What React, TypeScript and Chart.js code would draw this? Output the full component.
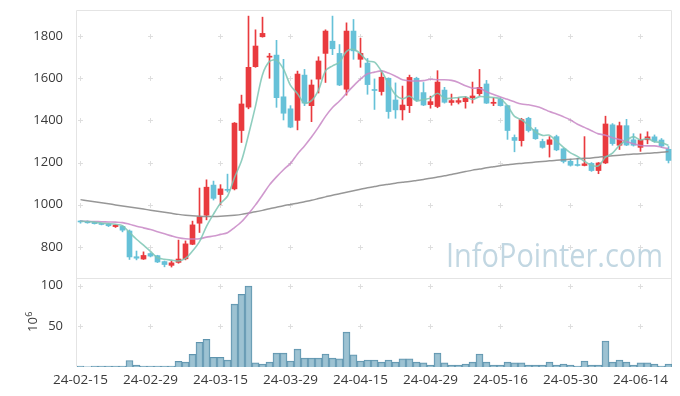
import React, { useEffect, useRef } from 'react';
import { Chart, registerables } from 'chart.js';

Chart.register(...registerables);

const dates = [
  '24-02-15','24-02-16','24-02-19','24-02-20','24-02-21','24-02-22','24-02-23','24-02-26','24-02-27','24-02-28',
  '24-02-29','24-03-04','24-03-05','24-03-06','24-03-07','24-03-08','24-03-11','24-03-12','24-03-13','24-03-14',
  '24-03-15','24-03-18','24-03-19','24-03-20','24-03-21','24-03-22','24-03-25','24-03-26','24-03-27','24-03-28',
  '24-03-29','24-04-01','24-04-02','24-04-03','24-04-04','24-04-05','24-04-08','24-04-09','24-04-11','24-04-12',
  '24-04-15','24-04-16','24-04-17','24-04-18','24-04-19','24-04-22','24-04-23','24-04-24','24-04-25','24-04-26',
  '24-04-29','24-04-30','24-05-02','24-05-03','24-05-07','24-05-08','24-05-09','24-05-10','24-05-13','24-05-14',
  '24-05-16','24-05-17','24-05-20','24-05-21','24-05-22','24-05-23','24-05-24','24-05-27','24-05-28','24-05-29',
  '24-05-30','24-05-31','24-06-03','24-06-04','24-06-05','24-06-07','24-06-10','24-06-11','24-06-12','24-06-13',
  '24-06-14','24-06-17','24-06-18','24-06-19','24-06-20',
];

const opens = [
  922,920,916,910,908,896,897,875,753,742,
  768,758,730,712,726,743,812,912,950,1093,
  1048,1073,1075,1352,1463,1655,1797,1700,1710,1512,
  1455,1400,1615,1470,1596,1718,1776,1718,1548,1824,
  1690,1672,1546,1537,1600,1497,1450,1470,1600,1532,
  1475,1466,1544,1485,1486,1489,1508,1527,1573,1481,
  1500,1470,1319,1304,1410,1356,1300,1286,1323,1265,
  1206,1190,1186,1196,1162,1198,1379,1282,1375,1308,
  1272,1308,1322,1307,1263,
];
const highs = [
  925,923,918,912,910,905,899,880,780,776,
  772,760,733,733,832,828,922,1079,1118,1112,
  1095,1145,1390,1520,1895,1830,1890,1718,1780,1690,
  1470,1634,1642,1592,1702,1830,1895,1760,1863,1879,
  1790,1694,1597,1636,1602,1578,1563,1615,1605,1580,
  1515,1636,1557,1525,1510,1513,1582,1642,1590,1508,
  1508,1472,1331,1410,1415,1366,1311,1323,1330,1268,
  1216,1221,1323,1200,1200,1420,1385,1392,1405,1337,
  1336,1346,1331,1314,1276,
];
const lows = [
  912,912,908,904,896,892,871,740,738,740,
  752,725,705,704,722,738,810,868,928,1022,
  1000,1060,1070,1295,1455,1652,1795,1600,1462,1402,
  1365,1355,1470,1394,1530,1580,1712,1565,1520,1690,
  1652,1524,1452,1520,1410,1410,1402,1437,1490,1470,
  1458,1460,1482,1472,1478,1458,1482,1518,1480,1470,
  1468,1310,1251,1278,1345,1310,1268,1226,1256,1198,
  1183,1183,1184,1158,1147,1195,1282,1262,1280,1278,
  1253,1289,1296,1272,1198,
];
const closes = [
  918,914,910,906,900,903,879,752,746,759,
  756,728,716,724,742,814,904,942,1083,1030,
  1075,1068,1387,1478,1652,1753,1813,1705,1508,1434,
  1368,1620,1482,1568,1682,1824,1740,1568,1824,1730,
  1718,1570,1542,1605,1442,1450,1473,1604,1497,1473,
  1489,1582,1486,1494,1494,1506,1516,1557,1482,1486,
  1470,1352,1305,1404,1352,1313,1272,1308,1260,1205,
  1187,1186,1194,1162,1198,1383,1290,1375,1283,1282,
  1307,1322,1301,1278,1210,
];
const volumes = [
  1.2,0.3,1.2,1.2,1.2,1.2,1.2,8,2.5,1.2,
  1.2,1.2,1.2,1.2,7,6,15.5,30.5,34,12,
  12,8.5,77.5,89.5,99.6,5,3.7,6,17,17,
  7.4,22,11,11,11,16,11,10,43,15,
  7.4,8.6,8.6,6,8.6,6,10,10,6,5,
  2.5,17,5,2.5,2.5,3.7,6,16,6,2.5,
  2.5,6,5,5,2.5,2.5,2.5,6,2.5,3.7,
  2.5,1.2,7.4,2.5,2.5,32,6,8.6,6,2.5,
  5,5,3.7,1.2,3.7,
];
const ma5 = [
  922,920,917,913,910,907,900,868,836,808,
  778,748,741,737,733,745,780,825,897,955,
  1007,1040,1129,1208,1332,1468,1617,1680,1686,1643,
  1566,1527,1482,1494,1544,1635,1659,1676,1728,1737,
  1716,1682,1677,1633,1575,1522,1502,1515,1493,1499,
  1507,1529,1505,1505,1509,1512,1499,1513,1511,1509,
  1502,1469,1419,1403,1377,1345,1329,1330,1301,1272,
  1246,1229,1206,1187,1185,1225,1245,1282,1306,1323,
  1307,1314,1299,1295,1281,
];
const ma20 = [
  922,921,920,919,918,917,915,907,898,890,
  882,872,862,852,843,838,837,838,846,851,
  859,867,891,919,957,999,1046,1094,1132,1166,
  1196,1241,1279,1321,1368,1419,1461,1492,1529,1564,
  1596,1621,1629,1635,1625,1610,1593,1588,1587,1589,
  1595,1593,1593,1590,1580,1564,1553,1553,1536,1523,
  1511,1500,1488,1478,1474,1467,1457,1442,1430,1417,
  1402,1382,1367,1351,1336,1330,1318,1309,1299,1289,
  1281,1279,1279,1273,1266,
];
const ma120 = [
  1024,1019,1014,1009,1004,999,994,989,984,979,
  974,969,964,959,954,950,947,945,944,944,
  945,947,950,954,960,966,973,981,988,995,
  1001,1007,1014,1021,1029,1037,1045,1052,1059,1066,
  1073,1080,1086,1092,1097,1102,1106,1110,1115,1120,
  1125,1131,1137,1143,1150,1157,1164,1169,1175,1180,
  1185,1189,1193,1196,1199,1202,1205,1208,1211,1213,
  1216,1218,1220,1222,1225,1229,1232,1235,1238,1240,
  1242,1244,1246,1249,1252,
];

const priceTicks = [800, 1000, 1200, 1400, 1600, 1800];
const volumeTicks = [50, 100];
const labelEvery = 10;

const FONT = '"Open Sans", "Noto Sans", sans-serif';
const TEXT = '#3a3a3a';
const RED = '#e93a3e';
const BLUE = '#66c1d8';

const decor = {
  id: 'decor',
  beforeDatasetsDraw(chart: any) {
    const { ctx, chartArea } = chart;
    const xs = chart.scales.x;
    const ys = chart.scales.y;
    const vs = chart.scales.v;
    ctx.save();
    // borders
    ctx.strokeStyle = '#e4e4e4';
    ctx.lineWidth = 1;
    ctx.beginPath();
    const L = Math.round(chartArea.left) - 0.5;
    const R = Math.round(chartArea.right) - 0.5;
    const T = Math.round(chartArea.top) + 0.5;
    const B = Math.round(chartArea.bottom) - 0.5;
    const S = Math.round(ys.bottom) + 0.5;
    ctx.moveTo(L, B); ctx.lineTo(L, T); ctx.lineTo(R, T); ctx.lineTo(R, B);
    ctx.moveTo(L, S); ctx.lineTo(R, S);
    ctx.stroke();
    // plus marks
    ctx.strokeStyle = '#dedede';
    ctx.beginPath();
    const yPix: number[] = [];
    priceTicks.forEach((t) => yPix.push(Math.round(ys.getPixelForValue(t)) + 0.5));
    volumeTicks.forEach((t) => yPix.push(Math.round(vs.getPixelForValue(t)) + 0.5));
    for (let i = 0; i < dates.length; i += labelEvery) {
      const px = Math.floor(xs.getPixelForValue(i)) + 0.5;
      yPix.forEach((py) => {
        ctx.moveTo(px - 2.5, py); ctx.lineTo(px + 2.5, py);
        ctx.moveTo(px, py - 2.5); ctx.lineTo(px, py + 2.5);
      });
    }
    ctx.stroke();
    // watermark
    ctx.fillStyle = '#c2d7e2';
    ctx.font = '32px ' + FONT;
    ctx.textAlign = 'left';
    ctx.textBaseline = 'alphabetic';
    ctx.fillText('InfoPointer.com', 446, 267, 217);
    // volume unit label 10^6
    ctx.fillStyle = TEXT;
    ctx.translate(37, 332);
    ctx.rotate(-Math.PI / 2);
    ctx.font = '13px ' + FONT;
    ctx.fillText('10', 0, 0);
    const w = ctx.measureText('10').width;
    ctx.font = '9px ' + FONT;
    ctx.fillText('6', w + 0.5, -5);
    ctx.restore();
  },
};

const zeroPad = (s: any) => {
  s.paddingTop = 0;
  s.paddingBottom = 0;
};

export default function App() {
  const ref = useRef<HTMLCanvasElement>(null);
  useEffect(() => {
    const canvas = ref.current;
    if (!canvas) return;
    const colors = closes.map((c, i) => (c >= opens[i] ? RED : BLUE));
    const chart = new Chart(canvas, {
      data: {
        labels: dates,
        datasets: [
          {
            type: 'line', label: 'MA5', data: ma5, yAxisID: 'y',
            borderColor: 'rgba(125,198,180,0.85)', borderWidth: 1.6, pointRadius: 0, tension: 0.3, order: 1,
          },
          {
            type: 'line', label: 'MA20', data: ma20, yAxisID: 'y',
            borderColor: 'rgba(200,135,198,0.85)', borderWidth: 1.6, pointRadius: 0, tension: 0.3, order: 1,
          },
          {
            type: 'line', label: 'MA120', data: ma120, yAxisID: 'y',
            borderColor: 'rgba(140,140,140,0.9)', borderWidth: 1.5, pointRadius: 0, tension: 0.3, order: 1,
          },
          {
            type: 'bar', label: 'wick', data: lows.map((l, i) => [l, highs[i]]) as any, yAxisID: 'y',
            backgroundColor: colors, barThickness: 1, grouped: false, order: 3,
          },
          {
            type: 'bar', label: 'body', data: opens.map((o, i) => [o, closes[i]]) as any, yAxisID: 'y',
            backgroundColor: colors, barThickness: 5, minBarLength: 1, grouped: false, order: 2,
          },
          {
            type: 'bar', label: 'volume', data: volumes, yAxisID: 'v',
            backgroundColor: 'rgba(143,185,204,0.88)', borderColor: '#5f94ae', borderWidth: 1,
            barPercentage: 1, categoryPercentage: 1, grouped: false, order: 4,
          },
        ] as any,
      },
      options: {
        animation: false,
        responsive: true,
        maintainAspectRatio: false,
        events: [],
        layout: { padding: { top: 10, right: 8, left: 0, bottom: 0 } },
        plugins: { legend: { display: false }, tooltip: { enabled: false } },
        scales: {
          x: {
            type: 'category',
            offset: true,
            grid: { display: false },
            border: { display: false },
            ticks: {
              autoSkip: false, maxRotation: 0, minRotation: 0, padding: -3,
              color: TEXT, font: { family: FONT, size: 13.5 },
              callback: (_v: any, i: number) => (i % labelEvery === 0 ? dates[i] : null),
            },
            afterFit: (s: any) => { s.height = 29; s.paddingLeft = 0; s.paddingRight = 0; },
          },
          y: {
            type: 'linear', position: 'left', stack: 'p', stackWeight: 268, weight: 2,
            min: 652, max: 1924,
            grid: { display: false }, border: { display: false },
            ticks: {
              padding: 6, color: TEXT, font: { family: FONT, size: 13 },
              callback: (v: any) => String(v),
            },
            afterBuildTicks: (s: any) => { s.ticks = priceTicks.map((v) => ({ value: v })); },
            afterFit: (s: any) => { s.width = 77; zeroPad(s); },
          },
          v: {
            type: 'linear', position: 'left', stack: 'p', stackWeight: 89, weight: 1,
            min: 0, max: 109.6,
            grid: { display: false }, border: { display: false },
            ticks: {
              padding: 6, color: TEXT, font: { family: FONT, size: 13 },
              callback: (v: any) => String(v),
            },
            afterBuildTicks: (s: any) => { s.ticks = volumeTicks.map((v) => ({ value: v })); },
            afterFit: (s: any) => { s.width = 77; zeroPad(s); },
          },
        } as any,
      },
      plugins: [decor],
    } as any);
    return () => chart.destroy();
  }, []);
  return (
    <div style={{ position: 'fixed', left: 0, top: 0, width: 680, height: 396, background: '#fff' }}>
      <canvas ref={ref} />
    </div>
  );
}
